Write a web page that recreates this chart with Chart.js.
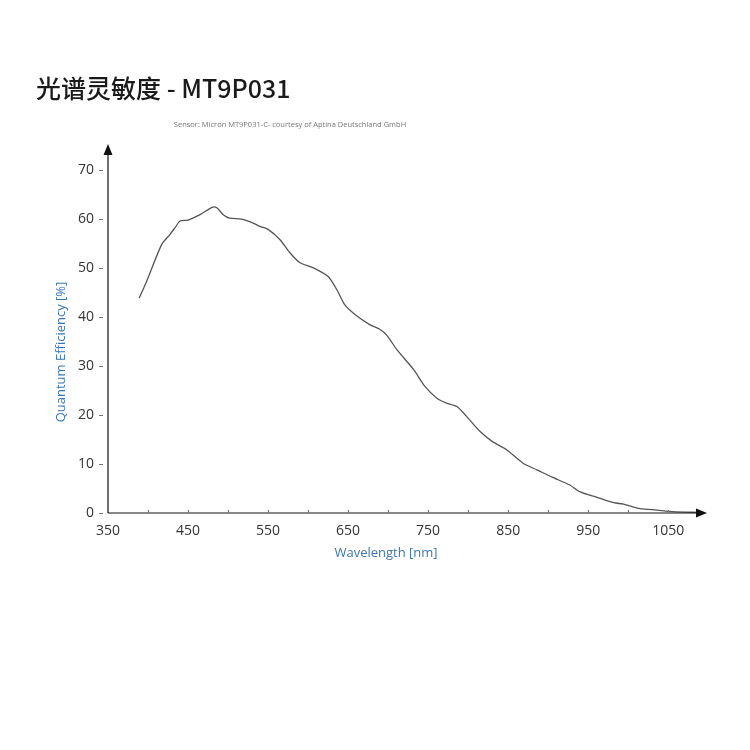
<!DOCTYPE html>
<html>
<head>
<meta charset="utf-8">
<script src="https://cdn.jsdelivr.net/npm/chart.js@4"></script>
<style>
    body { margin: 0; background: #fff; }
    .wrap { width: 750px; height: 750px; }
</style>
</head>
<body>
<div class="wrap"><canvas id="qeChart"></canvas></div>
<script>
const wavelengths = [389, 397, 417, 427, 434, 440, 450, 465, 480, 486, 494, 502, 517, 530, 540, 550, 565, 577, 590, 606,
    625, 636, 646, 659, 677, 690, 698, 711, 732, 746, 761, 773, 786, 798, 815, 830, 848, 869, 886, 905,
    927, 940, 961, 982, 994, 1015, 1036, 1056, 1090];
const efficiency = [43.8, 46.7, 54.7, 56.7, 58.2, 59.5, 59.7, 60.8, 62.3, 62.2, 60.8, 60.1, 59.9, 59.2, 58.4, 57.8, 55.7, 53.1, 51.0, 50.0,
    48.2, 45.5, 42.4, 40.4, 38.4, 37.4, 36.3, 33.3, 29.2, 25.8, 23.4, 22.4, 21.7, 19.7, 16.6, 14.6, 12.9, 10.1, 8.8, 7.3,
    5.7, 4.3, 3.2, 2.1, 1.8, 0.9, 0.6, 0.3, 0.1];
const xLabelEvery = 100;   // 350, 450, ... 1050
const yTickStep = 10;      // 0 .. 70

const titleText = '光谱灵敏度 - MT9P031';
const subText = 'Sensor: Micron MT9P031-C- courtesy of Aptina Deutschland GmbH';
const xTitle = 'Wavelength [nm]';
const yTitle = 'Quantum Efficiency [%]';

const font = '"Open Sans", "Noto Sans", sans-serif';
const blue = '#3a77b4';

// axes with arrows, inner ticks, axis titles and the small source line
const axisDecor = {
    id: 'axisDecor',
    afterDraw(chart) {
        const { ctx, chartArea: a, scales: { x, y } } = chart;
        ctx.save();
        ctx.strokeStyle = '#111';
        ctx.fillStyle = '#111';
        ctx.lineWidth = 1.2;
        ctx.beginPath();
        ctx.moveTo(a.left, a.bottom);
        ctx.lineTo(a.left, a.top + 6);
        ctx.moveTo(a.left, a.bottom);
        ctx.lineTo(a.right - 6, a.bottom);
        ctx.stroke();

        ctx.beginPath();
        ctx.moveTo(a.left, a.top - 1);
        ctx.lineTo(a.left - 4.5, a.top + 10);
        ctx.lineTo(a.left + 4.5, a.top + 10);
        ctx.closePath();
        ctx.fill();
        ctx.beginPath();
        ctx.moveTo(a.right + 2, a.bottom);
        ctx.lineTo(a.right - 9, a.bottom - 4.5);
        ctx.lineTo(a.right - 9, a.bottom + 4.5);
        ctx.closePath();
        ctx.fill();

        ctx.strokeStyle = '#777';
        ctx.lineWidth = 1;
        ctx.beginPath();
        x.ticks.forEach(t => {
            const px = Math.round(x.getPixelForValue(t.value)) + 0.5;
            if (t.value === x.min) return;
            ctx.moveTo(px, a.bottom);
            ctx.lineTo(px, a.bottom - 3);
        });
        y.ticks.forEach(t => {
            const py = Math.round(y.getPixelForValue(t.value)) + 0.5;
            ctx.moveTo(a.left - 9, py);
            ctx.lineTo(a.left - 5, py);
        });
        ctx.stroke();

        ctx.fillStyle = blue;
        ctx.font = '13px ' + font;
        ctx.textAlign = 'center';
        ctx.textBaseline = 'middle';
        ctx.fillText(xTitle, a.left + 278, a.bottom + 40);
        ctx.save();
        ctx.translate(a.left - 47, a.bottom - 161);
        ctx.rotate(-Math.PI / 2);
        ctx.fillText(yTitle, 0, 0);
        ctx.restore();

        ctx.fillStyle = '#777';
        ctx.font = '7.5px ' + font;
        ctx.fillText(subText, 290, 125);
        ctx.restore();
    }
};

new Chart('qeChart', {
    type: 'line',
    data: {
        datasets: [{
            data: wavelengths.map((w, i) => ({ x: w, y: efficiency[i] })),
            borderColor: '#555',
            borderWidth: 1.3,
            pointRadius: 0,
            tension: 0.25,
            fill: false
        }]
    },
    options: {
        responsive: true,
        maintainAspectRatio: false,
        animation: false,
        layout: { padding: { left: 36, right: 45, top: 0, bottom: 0 } },
        plugins: {
            legend: { display: false },
            tooltip: { enabled: false },
            title: {
                display: true,
                text: titleText,
                align: 'start',
                color: '#1a1a1a',
                font: { family: '"Noto Sans CJK SC", "Noto Sans", sans-serif', size: 25, weight: 500 },
                padding: { top: 73, bottom: 42 }
            }
        },
        scales: {
            x: {
                type: 'linear',
                min: 350,
                max: 1096,
                grid: { display: false, drawTicks: false },
                border: { display: false },
                afterBuildTicks: s => { s.ticks = s.ticks.filter(t => t.value % 50 === 0); },
                afterFit: s => { s.height = 237; },
                ticks: {
                    stepSize: 50,
                    includeBounds: false,
                    autoSkip: false,
                    maxRotation: 0,
                    padding: 10,
                    color: '#333',
                    font: { family: font, size: 14 },
                    callback: v => ((v - 350) % xLabelEvery === 0 ? v : '')
                }
            },
            y: {
                min: 0,
                max: 75,
                grid: { display: false, drawTicks: false },
                border: { display: false },
                afterBuildTicks: s => { s.ticks = s.ticks.filter(t => t.value % yTickStep === 0); },
                afterFit: s => { s.width = 72; },
                ticks: {
                    stepSize: yTickStep,
                    includeBounds: false,
                    padding: 14,
                    color: '#333',
                    font: { family: font, size: 14 }
                }
            }
        }
    },
    plugins: [axisDecor]
});
</script>
</body>
</html>
